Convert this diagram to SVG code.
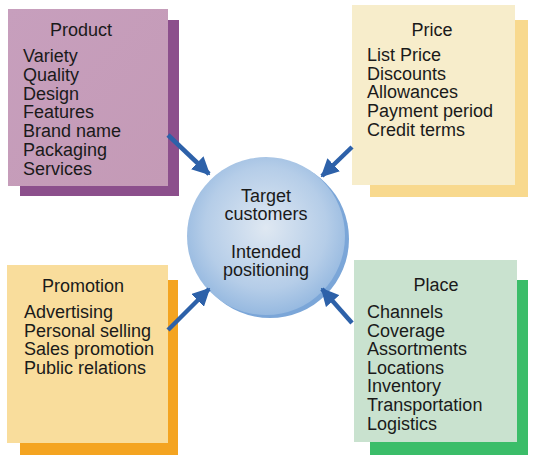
<svg xmlns="http://www.w3.org/2000/svg" width="539" height="463" viewBox="0 0 539 463">
<defs>
<linearGradient id="gProd" x1="0" y1="0" x2="1" y2="1"><stop offset="0" stop-color="#c79fbd"/><stop offset="1" stop-color="#c49ab6"/></linearGradient>
<radialGradient id="gCirc" cx="0.5" cy="0.45" r="0.55"><stop offset="0" stop-color="#dfe8f2"/><stop offset="0.7" stop-color="#b5cde8"/><stop offset="1" stop-color="#96b9e0"/></radialGradient>
<marker id="ah" viewBox="0 0 10 10" refX="9" refY="5" markerWidth="4" markerHeight="4" orient="auto" markerUnits="strokeWidth"><path d="M0,0 L10,5 L0,10 z" fill="#2d61a9"/></marker>
</defs>
<style>
text{font-family:"Liberation Sans",Arial,sans-serif;font-size:18px;fill:#1a1a1a}
.t{text-anchor:middle}
.arr{stroke:#2d61a9;stroke-width:4.5;fill:none;marker-end:url(#ah)}
</style>
<rect width="539" height="463" fill="#fff"/>
<g id="product">
<rect x="20" y="20" width="159" height="176" fill="#8c4f8c"/>
<rect x="8" y="9" width="160" height="177" fill="url(#gProd)"/>
<text class="t" x="81" y="36">Product</text>
<text x="23" y="62">Variety</text>
<text x="23" y="81">Quality</text>
<text x="23" y="100">Design</text>
<text x="23" y="118">Features</text>
<text x="23" y="137">Brand name</text>
<text x="23" y="156">Packaging</text>
<text x="23" y="175">Services</text>
</g>
<g id="price">
<rect x="370" y="20" width="158" height="177" fill="#f8d98e"/>
<rect x="352" y="5" width="163" height="180" fill="#f7edcb"/>
<text class="t" x="432" y="36">Price</text>
<text x="367" y="61">List Price</text>
<text x="367" y="80">Discounts</text>
<text x="367" y="98">Allowances</text>
<text x="367" y="117">Payment period</text>
<text x="367" y="136">Credit terms</text>
</g>
<g id="promotion">
<rect x="20" y="280" width="158" height="175" fill="#f4a421"/>
<rect x="7" y="265" width="161" height="178" fill="#f9dd9c"/>
<text class="t" x="83" y="292">Promotion</text>
<text x="24" y="318">Advertising</text>
<text x="24" y="337">Personal selling</text>
<text x="24" y="355">Sales promotion</text>
<text x="24" y="374">Public relations</text>
</g>
<g id="place">
<rect x="370" y="280" width="158" height="175" fill="#3bbd69"/>
<rect x="354" y="260" width="163" height="182" fill="#c9e2cf"/>
<text class="t" x="436" y="291">Place</text>
<text x="367" y="318">Channels</text>
<text x="367" y="337">Coverage</text>
<text x="367" y="355">Assortments</text>
<text x="367" y="374">Locations</text>
<text x="367" y="392">Inventory</text>
<text x="367" y="411">Transportation</text>
<text x="367" y="430">Logistics</text>
</g>
<g id="center">
<circle cx="270" cy="239" r="79" fill="#7ba6d8"/>
<circle cx="266" cy="236" r="79" fill="url(#gCirc)"/>
<text class="t" x="266" y="202">Target</text>
<text class="t" x="266" y="220">customers</text>
<text class="t" x="266" y="258">Intended</text>
<text class="t" x="266" y="276">positioning</text>
</g>
<g id="connectors">
<line class="arr" x1="168" y1="135" x2="209" y2="174"/>
<line class="arr" x1="352" y1="147" x2="322" y2="176"/>
<line class="arr" x1="168" y1="330" x2="209" y2="289"/>
<line class="arr" x1="352" y1="323" x2="322" y2="289"/>
</g>
</svg>
